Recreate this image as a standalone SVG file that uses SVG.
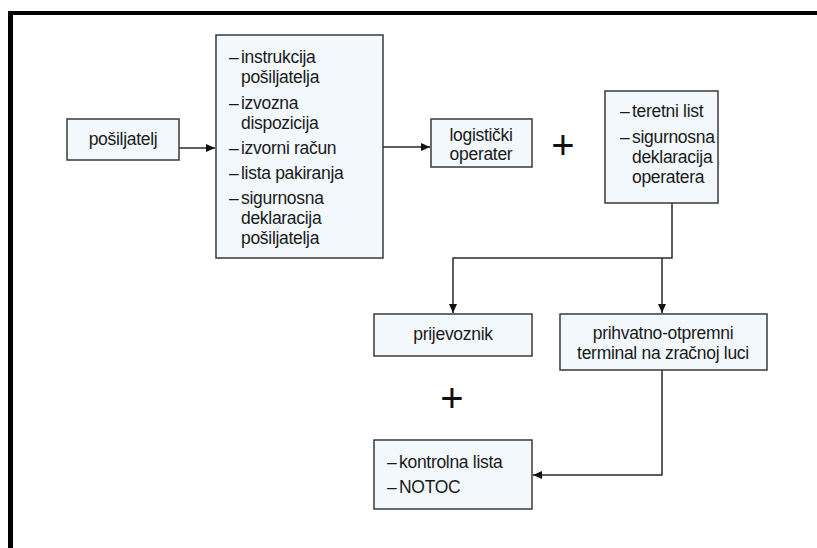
<svg xmlns="http://www.w3.org/2000/svg" width="817" height="548" viewBox="0 0 817 548">
<defs>
<style>
.box{fill:#f3f8fd;stroke:#3a3a3a;stroke-width:1.5}
.t{font-family:"Liberation Sans",Arial,sans-serif;font-size:17.5px;letter-spacing:-0.3px;fill:#1a1a1a}
.c{text-anchor:middle}
.ln{fill:none;stroke:#2a2a2a;stroke-width:1.5}
.plus{font-family:"Liberation Sans",Arial,sans-serif;font-size:40px;fill:#111;text-anchor:middle}
</style>
<marker id="ah" markerWidth="10" markerHeight="10" refX="9" refY="5" orient="auto" markerUnits="userSpaceOnUse">
<path d="M0,1 L9,5 L0,9 Z" fill="#111"/>
</marker>
</defs>
<rect width="817" height="548" fill="#fff"/>
<g id="frame">
<rect x="8" y="11" width="809" height="4" fill="#000"/>
<rect x="8" y="11" width="5" height="537" fill="#000"/>
</g>
<g id="connectors">
<line class="ln" x1="179" y1="148" x2="215" y2="148" marker-end="url(#ah)"/>
<line class="ln" x1="383" y1="147" x2="430" y2="147" marker-end="url(#ah)"/>
<polyline class="ln" points="672,203 672,258 453,258 453,313" marker-end="url(#ah)"/>
<line class="ln" x1="662" y1="258" x2="662" y2="313" marker-end="url(#ah)"/>
<polyline class="ln" points="662,370 662,475 533,475" marker-end="url(#ah)"/>
</g>
<g id="posiljatelj">
<rect class="box" x="67" y="119" width="112" height="41"/>
<text class="t c" x="123" y="145">pošiljatelj</text>
</g>
<g id="dokumenti">
<rect class="box" x="216" y="35" width="167" height="223"/>
<text class="t" x="229" y="63">–</text><text class="t" x="241" y="63">instrukcija</text>
<text class="t" x="241" y="83">pošiljatelja</text>
<text class="t" x="229" y="109">–</text><text class="t" x="241" y="109">izvozna</text>
<text class="t" x="241" y="129">dispozicija</text>
<text class="t" x="229" y="154">–</text><text class="t" x="241" y="154">izvorni račun</text>
<text class="t" x="229" y="179">–</text><text class="t" x="241" y="179">lista pakiranja</text>
<text class="t" x="229" y="204">–</text><text class="t" x="241" y="204">sigurnosna</text>
<text class="t" x="241" y="224">deklaracija</text>
<text class="t" x="241" y="244">pošiljatelja</text>
</g>
<g id="logisticki">
<rect class="box" x="431" y="119" width="101" height="48"/>
<text class="t c" x="481" y="141">logistički</text>
<text class="t c" x="481" y="160">operater</text>
</g>
<g id="plus1"><text class="plus" x="563" y="159">+</text></g>
<g id="teretni">
<rect class="box" x="605" y="91" width="113" height="112"/>
<text class="t" x="620" y="117">–</text><text class="t" x="632" y="117">teretni list</text>
<text class="t" x="620" y="143">–</text><text class="t" x="632" y="143">sigurnosna</text>
<text class="t" x="632" y="163">deklaracija</text>
<text class="t" x="632" y="183">operatera</text>
</g>
<g id="prijevoznik">
<rect class="box" x="374" y="314" width="158" height="42"/>
<text class="t c" x="453" y="340">prijevoznik</text>
</g>
<g id="terminal">
<rect class="box" x="560" y="314" width="207" height="56"/>
<text class="t c" x="663" y="339">prihvatno-otpremni</text>
<text class="t c" x="663" y="359">terminal na zračnoj luci</text>
</g>
<g id="plus2"><text class="plus" x="452" y="412">+</text></g>
<g id="kontrolna">
<rect class="box" x="374" y="440" width="158" height="69"/>
<text class="t" x="387" y="468">–</text><text class="t" x="399" y="468">kontrolna lista</text>
<text class="t" x="387" y="493">–</text><text class="t" x="399" y="493">NOTOC</text>
</g>
</svg>
